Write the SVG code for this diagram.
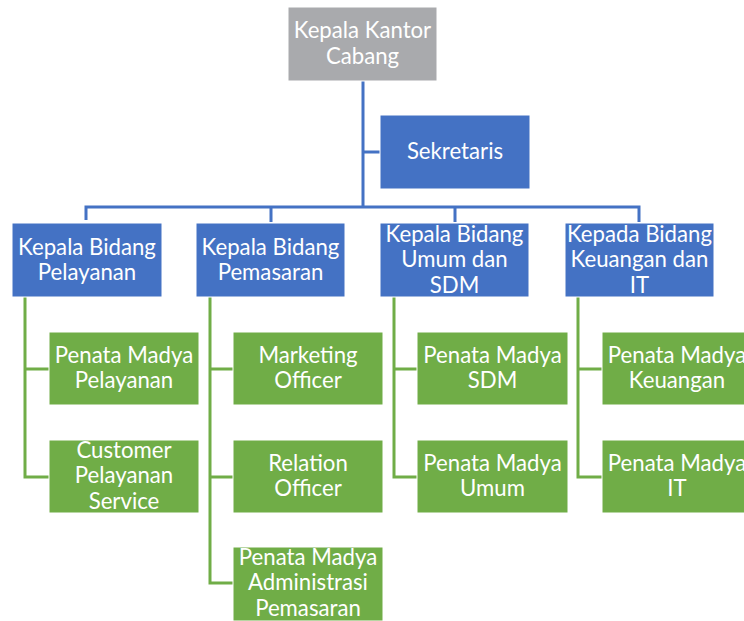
<svg xmlns="http://www.w3.org/2000/svg" width="744" height="621" viewBox="0 0 744 621">
<style>
  .box { stroke: #ffffff; stroke-width: 1; }
  .gray { fill: #A9AAAD; }
  .blue { fill: #4472C4; }
  .green { fill: #70AD47; }
  text { font-family: Lato, "Open Sans", sans-serif; font-size: 22.2px; fill: #ffffff; text-anchor: middle; }
  .cb { fill: none; stroke: #4472C4; stroke-width: 3; }
  .cg { fill: none; stroke: #70AD47; stroke-width: 3; }
</style>
<rect width="744" height="621" fill="#ffffff"/>
<g id="connectors">
  <path class="cb" d="M363,81 V207 M363,152 H380 M86,220 V207 H639 V222 M271,207 V222 M455,207 V222"/>
  <path class="cg" d="M25,297 V477 H49 M25,369 H49"/>
  <path class="cg" d="M210,297 V583 H233 M210,369 H233 M210,477 H233"/>
  <path class="cg" d="M394,297 V477 H417 M394,369 H417"/>
  <path class="cg" d="M578,297 V477 H602 M578,369 H602"/>
</g>
<g id="kepala-kantor">
  <rect class="box gray" x="288" y="7" width="149" height="74"/>
  <text x="362.5" y="38">Kepala Kantor</text>
  <text x="362.5" y="64">Cabang</text>
</g>
<g id="sekretaris">
  <rect class="box blue" x="380" y="115" width="150" height="74"/>
  <text x="455" y="159">Sekretaris</text>
</g>
<g id="kb-pelayanan">
  <rect class="box blue" x="12" y="223" width="150" height="74"/>
  <text x="87" y="255">Kepala Bidang</text>
  <text x="87" y="280">Pelayanan</text>
</g>
<g id="kb-pemasaran">
  <rect class="box blue" x="196" y="223" width="149" height="74"/>
  <text x="270.5" y="255">Kepala Bidang</text>
  <text x="270.5" y="280">Pemasaran</text>
</g>
<g id="kb-umum-sdm">
  <rect class="box blue" x="380" y="223" width="149" height="74"/>
  <text x="454.5" y="242">Kepala Bidang</text>
  <text x="454.5" y="267">Umum dan</text>
  <text x="454.5" y="293">SDM</text>
</g>
<g id="kb-keuangan-it">
  <rect class="box blue" x="565" y="223" width="149" height="74"/>
  <text x="639.5" y="242">Kepada Bidang</text>
  <text x="639.5" y="267">Keuangan dan</text>
  <text x="639.5" y="293">IT</text>
</g>
<g id="pm-pelayanan">
  <rect class="box green" x="49" y="332" width="150" height="73"/>
  <text x="124" y="363">Penata Madya</text>
  <text x="124" y="388">Pelayanan</text>
</g>
<g id="customer-service">
  <rect class="box green" x="49" y="440" width="150" height="73"/>
  <text x="124" y="458">Customer</text>
  <text x="124" y="483">Pelayanan</text>
  <text x="124" y="509">Service</text>
</g>
<g id="marketing-officer">
  <rect class="box green" x="233" y="332" width="150" height="73"/>
  <text x="308" y="363">Marketing</text>
  <text x="308" y="388">Officer</text>
</g>
<g id="relation-officer">
  <rect class="box green" x="233" y="440" width="150" height="73"/>
  <text x="308" y="471">Relation</text>
  <text x="308" y="496">Officer</text>
</g>
<g id="pm-administrasi">
  <rect class="box green" x="233" y="547" width="150" height="74"/>
  <text x="308" y="565">Penata Madya</text>
  <text x="308" y="590">Administrasi</text>
  <text x="308" y="616">Pemasaran</text>
</g>
<g id="pm-sdm">
  <rect class="box green" x="417" y="332" width="151" height="73"/>
  <text x="492.5" y="363">Penata Madya</text>
  <text x="492.5" y="388">SDM</text>
</g>
<g id="pm-umum">
  <rect class="box green" x="417" y="440" width="151" height="73"/>
  <text x="492.5" y="471">Penata Madya</text>
  <text x="492.5" y="496">Umum</text>
</g>
<g id="pm-keuangan">
  <rect class="box green" x="602" y="332" width="150" height="73"/>
  <text x="677" y="363">Penata Madya</text>
  <text x="677" y="388">Keuangan</text>
</g>
<g id="pm-it">
  <rect class="box green" x="602" y="440" width="150" height="73"/>
  <text x="677" y="471">Penata Madya</text>
  <text x="677" y="496">IT</text>
</g>
</svg>
